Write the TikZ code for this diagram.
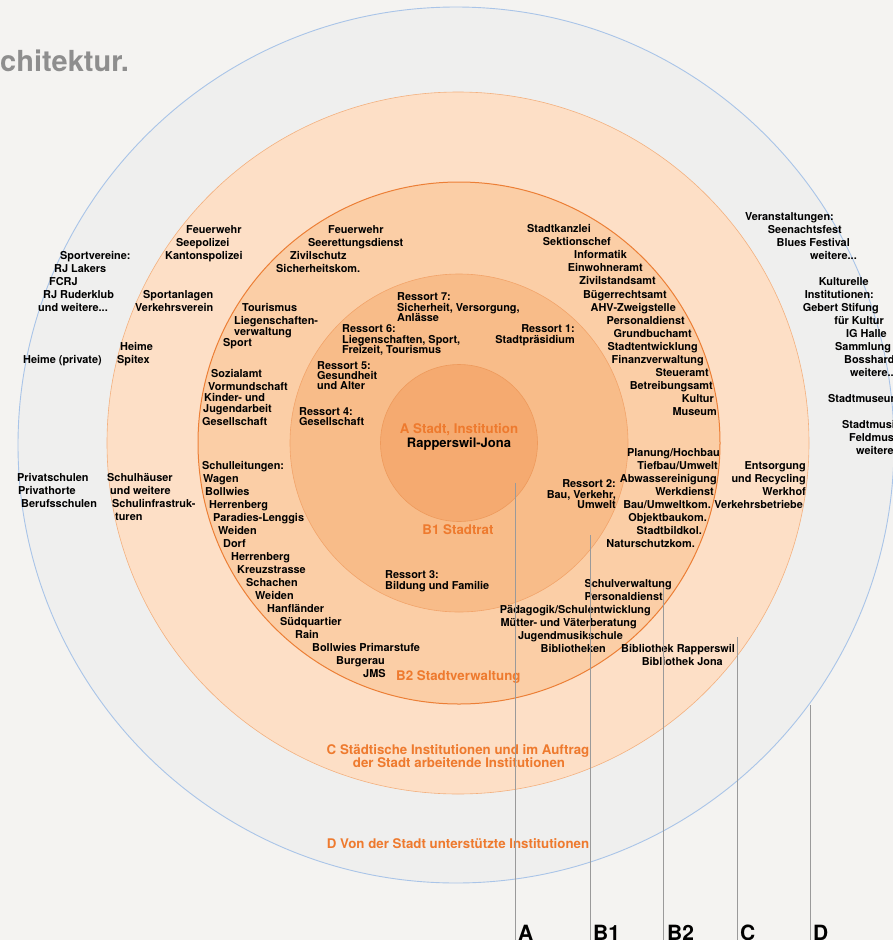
\documentclass[tikz,border=0pt]{standalone}
\usepackage{fontspec}
\setmainfont{TeX Gyre Heros}
\usetikzlibrary{calc}

\definecolor{bggray}{HTML}{F4F3F1}
\definecolor{dfill}{HTML}{EFEFEE}
\definecolor{dline}{HTML}{A9C4E8}
\definecolor{cfill}{HTML}{FDDFC6}
\definecolor{cline}{HTML}{F3B07E}
\definecolor{bzfill}{HTML}{FBCEA6}
\definecolor{bzline}{HTML}{EC7F36}
\definecolor{befill}{HTML}{F8BC89}
\definecolor{beline}{HTML}{F2A46A}
\definecolor{afill}{HTML}{F5AA70}
\definecolor{aline}{HTML}{EE9A5C}
\definecolor{orangetxt}{HTML}{EE7A2E}
\definecolor{leadgray}{HTML}{9A9A9A}
\definecolor{titlegray}{HTML}{8E8E8E}

\tikzset{
  ring/.style={circle, inner sep=0pt},
  txt/.style={inner sep=0pt, font=\fontsize{10.9}{13}\selectfont\bfseries},
  lw/.style={txt, anchor=base west},
  le/.style={txt, anchor=base east},
  lbl/.style={inner sep=0pt, anchor=base, text=orangetxt, font=\fontsize{13.3}{15}\selectfont\bfseries},
  lead/.style={leadgray, line width=0.9pt},
  letter/.style={inner sep=0pt, anchor=base west, font=\fontsize{21}{24}\selectfont\bfseries}
}

\begin{document}
\begin{tikzpicture}[x=1pt, y=-1pt]
  \useasboundingbox (0,0) rectangle (893,940);
  \clip (0,0) rectangle (893,940);
  \fill [bggray] (0,0) rectangle (893,940);

  % rings
  \node [ring, draw=dline, line width=0.9pt, fill=dfill, minimum size=876pt] (ringD) at (456,445) {};
  \node [ring, draw=cline, line width=0.6pt, fill=cfill, minimum size=702pt] (ringC) at (458,443) {};
  \node [ring, draw=bzline, line width=1pt, fill=bzfill, minimum size=522pt] (ringBz) at (459,443) {};
  \node [ring, draw=beline, line width=0.6pt, fill=befill, minimum size=338pt] (ringBe) at (459,443) {};
  \node [ring, draw=aline, line width=0.6pt, fill=afill, minimum size=157pt] (ringA) at (459,443) {};

  % title
  \node [inner sep=0pt, anchor=base west, text=titlegray, font=\fontsize{29}{31}\selectfont\bfseries] (title) at (0,71) {chitektur.};

  % ring labels
  \node [lbl] (labA) at (459,433) {A Stadt, Institution};
  \node [txt, anchor=base, font=\fontsize{13}{15}\selectfont\bfseries] (city) at (459,447) {Rapperswil-Jona};
  \node [lbl] (labBe) at (458,534) {B1 Stadtrat};
  \node [lbl, anchor=base west] (labBz) at (396,680) {B2 Stadtverwaltung};
  \node [lbl] (labC1) at (458,754) {C Städtische Institutionen und im Auftrag};
  \node [lbl] (labC2) at (459,767) {der Stadt arbeitende Institutionen};
  \node [lbl] (labD) at (458,848) {D Von der Stadt unterstützte Institutionen};

  % D, left
  \node [lw] (d1) at (60,259) {Sportvereine:};
  \node [lw] (d2) at (54,272) {RJ Lakers};
  \node [lw] (d3) at (49,285) {FCRJ};
  \node [lw] (d4) at (43,298) {RJ Ruderklub};
  \node [lw] (d5) at (38,311) {und weitere...};
  \node [lw] (d6) at (23,363) {Heime (private)};
  \node [lw] (d7) at (17,481) {Privatschulen};
  \node [lw] (d8) at (18,494) {Privathorte};
  \node [lw] (d9) at (21,507) {Berufsschulen};

  % D, right
  \node [le] (d10) at (834,220) {Veranstaltungen:};
  \node [le] (d11) at (842,233) {Seenachtsfest};
  \node [le] (d12) at (850,246) {Blues Festival};
  \node [le] (d13) at (857,259) {weitere...};
  \node [le] (d14) at (869,285) {Kulturelle};
  \node [le] (d15) at (874,298) {Institutionen:};
  \node [le] (d16) at (879,311) {Gebert Stifung};
  \node [le] (d17) at (884,324) {für Kultur};
  \node [le] (d18) at (887,337) {IG Halle};
  \node [lw] (d19) at (835,350) {Sammlung};
  \node [lw] (d20) at (844,363) {Bosshard};
  \node [lw] (d21) at (850,376) {weitere...};
  \node [lw] (d22) at (828,402) {Stadtmuseum};
  \node [lw] (d23) at (842,428) {Stadtmusik};
  \node [lw] (d24) at (849,441) {Feldmusik};
  \node [lw] (d25) at (856,454) {weitere...};

  % C, left
  \node [lw] (c1) at (186,233) {Feuerwehr};
  \node [lw] (c2) at (176,246) {Seepolizei};
  \node [lw] (c3) at (165,259) {Kantonspolizei};
  \node [lw] (c4) at (143,298) {Sportanlagen};
  \node [lw] (c5) at (135,311) {Verkehrsverein};
  \node [lw] (c6) at (120,350) {Heime};
  \node [lw] (c7) at (117,363) {Spitex};
  \node [lw] (c8) at (107,481) {Schulhäuser};
  \node [lw] (c9) at (110,494) {und weitere};
  \node [lw] (c10) at (112,507) {Schulinfrastruk-};
  \node [lw] (c11) at (115,520) {turen};

  % C, right
  \node [le] (c12) at (806,469) {Entsorgung};
  \node [le] (c13) at (806,482) {und Recycling};
  \node [le] (c14) at (806,495) {Werkhof};
  \node [le] (c15) at (803,508) {Verkehrsbetriebe};
  \node [lw] (c16) at (621,652) {Bibliothek Rapperswil};
  \node [le] (c17) at (723,665) {Bibliothek Jona};

  % B2, left
  \node [lw] (v1) at (328,233) {Feuerwehr};
  \node [lw] (v2) at (308,246) {Seerettungsdienst};
  \node [lw] (v3) at (290,259) {Zivilschutz};
  \node [lw] (v4) at (276,272) {Sicherheitskom.};
  \node [lw] (v5) at (242,311) {Tourismus};
  \node [lw] (v6) at (234,324) {Liegenschaften-};
  \node [lw] (v7) at (234,335) {verwaltung};
  \node [lw] (v8) at (223,346) {Sport};
  \node [lw] (v9) at (211,377) {Sozialamt};
  \node [lw] (v10) at (208,390) {Vormundschaft};
  \node [lw] (v11) at (204,401) {Kinder- und};
  \node [lw] (v12) at (203,412) {Jugendarbeit};
  \node [lw] (v13) at (202,425) {Gesellschaft};

  % B2, schools
  \node [lw] (s1) at (202,469) {Schulleitungen:};
  \node [lw] (s2) at (203,482) {Wagen};
  \node [lw] (s3) at (205,495) {Bollwies};
  \node [lw] (s4) at (209,508) {Herrenberg};
  \node [lw] (s5) at (213,521) {Paradies-Lenggis};
  \node [lw] (s6) at (218,534) {Weiden};
  \node [lw] (s7) at (223,547) {Dorf};
  \node [lw] (s8) at (231,560) {Herrenberg};
  \node [lw] (s9) at (237,573) {Kreuzstrasse};
  \node [lw] (s10) at (246,586) {Schachen};
  \node [lw] (s11) at (255,599) {Weiden};
  \node [lw] (s12) at (267,612) {Hanfländer};
  \node [lw] (s13) at (280,625) {Südquartier};
  \node [lw] (s14) at (295,638) {Rain};
  \node [lw] (s15) at (312,651) {Bollwies Primarstufe};
  \node [lw] (s16) at (336,664) {Burgerau};
  \node [lw] (s17) at (363,677) {JMS};

  % B2, right
  \node [le] (v14) at (591,232) {Stadtkanzlei};
  \node [le] (v15) at (611,245) {Sektionschef};
  \node [le] (v16) at (627,258) {Informatik};
  \node [le] (v17) at (643,271) {Einwohneramt};
  \node [le] (v18) at (656,284) {Zivilstandsamt};
  \node [le] (v19) at (667,298) {Bügerrechtsamt};
  \node [le] (v20) at (676,311) {AHV-Zweigstelle};
  \node [le] (v21) at (685,324) {Personaldienst};
  \node [le] (v22) at (692,337) {Grundbuchamt};
  \node [le] (v23) at (698,350) {Stadtentwicklung};
  \node [le] (v24) at (704,363) {Finanzverwaltung};
  \node [le] (v25) at (709,376) {Steueramt};
  \node [le] (v26) at (713,389) {Betreibungsamt};
  \node [le] (v27) at (714,402) {Kultur};
  \node [le] (v28) at (717,415) {Museum};
  \node [le] (v29) at (720,456) {Planung/Hochbau};
  \node [le] (v30) at (718,469) {Tiefbau/Umwelt};
  \node [le] (v31) at (717,482) {Abwassereinigung};
  \node [le] (v32) at (714,495) {Werkdienst};
  \node [le] (v33) at (711,508) {Bau/Umweltkom.};
  \node [le] (v34) at (707,521) {Objektbaukom.};
  \node [le] (v35) at (702,534) {Stadtbildkol.};
  \node [le] (v36) at (695,547) {Naturschutzkom.};
  \node [le] (v37) at (672,587) {Schulverwaltung};
  \node [le] (v38) at (663,600) {Personaldienst};
  \node [le] (v39) at (651,613) {Pädagogik/Schulentwicklung};
  \node [le] (v40) at (637,626) {Mütter- und Väterberatung};
  \node [le] (v41) at (623,639) {Jugendmusikschule};
  \node [le] (v42) at (606,652) {Bibliotheken};

  % B1, Ressorts
  \node [lw] (r7a) at (397,300) {Ressort 7:};
  \node [lw] (r7b) at (397,311) {Sicherheit, Versorgung,};
  \node [lw] (r7c) at (397,321) {Anlässe};
  \node [lw] (r6a) at (342,332) {Ressort 6:};
  \node [lw] (r6b) at (342,343) {Liegenschaften, Sport,};
  \node [lw] (r6c) at (342,353) {Freizeit, Tourismus};
  \node [lw] (r5a) at (317,369) {Ressort 5:};
  \node [lw] (r5b) at (317,379) {Gesundheit};
  \node [lw] (r5c) at (317,389) {und Alter};
  \node [lw] (r4a) at (299,415) {Ressort 4:};
  \node [lw] (r4b) at (299,425) {Gesellschaft};
  \node [le] (r1a) at (575,332) {Ressort 1:};
  \node [le] (r1b) at (575,343) {Stadtpräsidium};
  \node [le] (r2a) at (616,487) {Ressort 2:};
  \node [le] (r2b) at (616,498) {Bau, Verkehr,};
  \node [le] (r2c) at (616,508) {Umwelt};
  \node [lw] (r3a) at (385,578) {Ressort 3:};
  \node [lw] (r3b) at (385,589) {Bildung und Familie};

  % leaders to the letters below
  \coordinate (tA) at (515,483);
  \coordinate (tBe) at (590,535);
  \coordinate (tBz) at (663,587);
  \coordinate (tC) at (737,637);
  \coordinate (tD) at (810,705);
  \coordinate (bot) at (0,945);
  \draw [lead] (tA) -- (tA |- bot);
  \draw [lead] (tBe) -- (tBe |- bot);
  \draw [lead] (tBz) -- (tBz |- bot);
  \draw [lead] (tC) -- (tC |- bot);
  \draw [lead] (tD) -- (tD |- bot);
  \node [letter] (lA) at (518,940) {A};
  \node [letter] (lBe) at (593,940) {B1};
  \node [letter] (lBz) at (667,940) {B2};
  \node [letter] (lC) at (740,940) {C};
  \node [letter] (lD) at (813,940) {D};
\end{tikzpicture}
\end{document}
